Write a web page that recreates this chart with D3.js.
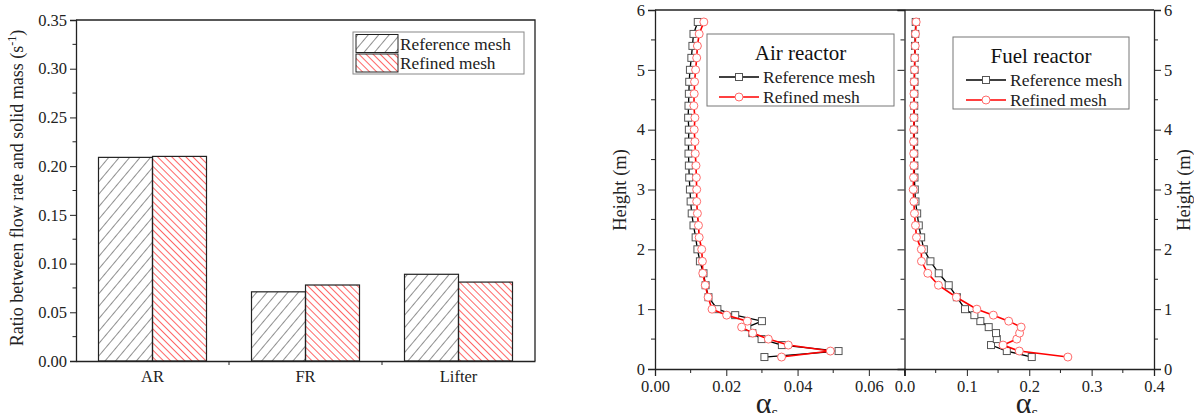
<!DOCTYPE html>
<html>
<head>
<meta charset="utf-8">
<script src="https://cdn.jsdelivr.net/npm/d3@7"></script>
<style>
  body { margin: 0; background: #fff; }
  svg text { font-family: "Liberation Serif", "Times New Roman", serif; }
</style>
</head>
<body>
<div id="chart"></div>
<script>
// bar chart data
var cats = ["AR", "FR", "Lifter"]
var series = ["Reference mesh", "Refined mesh"]
var refRatio = [0.209, 0.071, 0.089]
var fineRatio = [0.210, 0.078, 0.081]
var ratioTicks = [0, 0.05, 0.10, 0.15, 0.20, 0.25, 0.30, 0.35]

// profile data (height in m, solid fraction)
var heights = [0.2, 0.3, 0.4, 0.5, 0.6, 0.7, 0.8, 0.9, 1.0, 1.2, 1.4, 1.6, 1.8, 2.0, 2.2, 2.4, 2.6, 2.8, 3.0,
  3.2, 3.4, 3.6, 3.8, 4.0, 4.2, 4.4, 4.6, 4.8, 5.0, 5.2, 5.4, 5.6, 5.8]
var airRef = [0.0307, 0.0515, 0.0356, 0.0299, 0.0273, 0.0259, 0.0300, 0.0225, 0.0175, 0.0150, 0.0142, 0.0136,
  0.0126, 0.0119, 0.0114, 0.0108, 0.0103, 0.0100, 0.0098, 0.0096, 0.0095, 0.0094, 0.0094, 0.0095, 0.0093,
  0.0094, 0.0095, 0.0096, 0.0098, 0.0102, 0.0105, 0.0108, 0.0120]
var airFine = [0.0355, 0.0492, 0.0374, 0.0318, 0.0274, 0.0243, 0.0259, 0.0201, 0.0160, 0.0149, 0.0141, 0.0134,
  0.0133, 0.0131, 0.0124, 0.0122, 0.0119, 0.0117, 0.0117, 0.0116, 0.0115, 0.0113, 0.0112, 0.0110, 0.0112,
  0.0109, 0.0110, 0.0111, 0.0114, 0.0117, 0.0119, 0.0124, 0.0137]
var fuelRef = [0.2040, 0.1640, 0.1387, 0.1480, 0.1467, 0.1350, 0.1216, 0.1120, 0.0970, 0.0840, 0.0709, 0.0549,
  0.0416, 0.0310, 0.0267, 0.0229, 0.0203, 0.0176, 0.0165, 0.0160, 0.0158, 0.0156, 0.0155, 0.0154, 0.0155,
  0.0156, 0.0158, 0.0160, 0.0162, 0.0164, 0.0168, 0.0172, 0.0180]
var fuelFine = [0.2619, 0.1840, 0.1580, 0.1800, 0.1845, 0.1870, 0.1670, 0.1424, 0.1160, 0.0832, 0.0544, 0.0373,
  0.0272, 0.0270, 0.0192, 0.0176, 0.0160, 0.0150, 0.0140, 0.0145, 0.0150, 0.0148, 0.0146, 0.0148, 0.0150,
  0.0150, 0.0152, 0.0155, 0.0160, 0.0164, 0.0172, 0.0176, 0.0187]
var heightTicks = [0, 1, 2, 3, 4, 5, 6]
var airTicks = [0, 0.02, 0.04, 0.06]
var fuelTicks = [0, 0.1, 0.2, 0.3, 0.4]

var serif = "'Liberation Serif', 'Times New Roman', serif"

var svg = d3.select("#chart").append("svg")
  .attr("width", 1194)
  .attr("height", 413)

// hatch patterns
var defs = svg.append("defs")
defs.append("pattern")
  .attr("id", "hatchBlack")
  .attr("patternUnits", "userSpaceOnUse")
  .attr("width", 8).attr("height", 8)
  .attr("patternTransform", "rotate(40)")
  .append("line")
    .attr("x1", 0).attr("y1", 0).attr("x2", 0).attr("y2", 8)
    .attr("stroke", "#222").attr("stroke-width", 1)
defs.append("pattern")
  .attr("id", "hatchRed")
  .attr("patternUnits", "userSpaceOnUse")
  .attr("width", 5).attr("height", 5)
  .attr("patternTransform", "rotate(-45)")
  .append("line")
    .attr("x1", 0).attr("y1", 0).attr("x2", 0).attr("y2", 5)
    .attr("stroke", "#f00").attr("stroke-width", 1.2)

var fills = ["url(#hatchBlack)", "url(#hatchRed)"]

//---------------- bar chart ----------------
var bx = d3.scaleBand().domain(cats).range([76, 535]).padding(0)
var bx1 = d3.scaleBand().domain(series).range([0, bx.bandwidth()]).paddingOuter(0.4167).paddingInner(0)
var by = d3.scaleLinear().domain([0, 0.35]).range([361, 20])

var barG = svg.append("g")
var rows = cats.map(function(c, i) { return [refRatio[i], fineRatio[i]] })
cats.forEach(function(c, i) {
  series.forEach(function(s, j) {
    barG.append("rect")
      .attr("x", bx(c) + bx1(s))
      .attr("y", by(rows[i][j]))
      .attr("width", bx1.bandwidth())
      .attr("height", by(0) - by(rows[i][j]))
      .attr("fill", fills[j])
      .attr("stroke", "#222")
      .attr("stroke-width", 1.2)
  })
})

// frame
svg.append("path")
  .attr("d", "M76,20H535V361")
  .attr("fill", "none").attr("stroke", "#222").attr("stroke-width", 1.3)

var yAxisL = svg.append("g")
  .attr("transform", "translate(76,0)")
  .call(d3.axisLeft(by).tickValues(ratioTicks).tickFormat(d3.format(".2f")).tickSize(6).tickPadding(3))
yAxisL.append("g").selectAll("line")
  .data(d3.range(0.025, 0.35, 0.05)).enter().append("line")
  .attr("x1", 0).attr("x2", -3.5)
  .attr("y1", function(d) { return by(d) }).attr("y2", function(d) { return by(d) })
  .attr("stroke", "#222")

var xAxisL = svg.append("g")
  .attr("transform", "translate(0,361)")
  .call(d3.axisBottom(bx).tickSize(0).tickPadding(9))
xAxisL.append("g").selectAll("line")
  .data([bx("FR"), bx("Lifter")]).enter().append("line")
  .attr("x1", function(d) { return d }).attr("x2", function(d) { return d })
  .attr("y1", 0).attr("y2", 4)
  .attr("stroke", "#222")

svg.append("text")
  .attr("transform", "translate(23,188) rotate(-90)")
  .attr("text-anchor", "middle")
  .attr("font-size", 18)
  .attr("fill", "#222")
  .html("Ratio between flow rate and solid mass (s<tspan dy='-7' font-size='12'>-1</tspan><tspan dy='7'>)</tspan>")

// bar legend
var bl = svg.append("g")
bl.append("rect").attr("x", 353).attr("y", 32).attr("width", 171).attr("height", 42)
  .attr("fill", "#fff").attr("stroke", "#888").attr("stroke-width", 1)
series.forEach(function(s, j) {
  bl.append("rect").attr("x", 356).attr("y", 34.5 + j * 19.5).attr("width", 42).attr("height", 18)
    .attr("fill", fills[j]).attr("stroke", "#222").attr("stroke-width", 1)
  bl.append("text").attr("x", 400).attr("y", 49.5 + j * 19.5)
    .attr("font-size", 17.3).attr("fill", "#222").text(s)
})

//---------------- profiles ----------------
var hy = d3.scaleLinear().domain([0, 6]).range([369, 10])
var ax = d3.scaleLinear().domain([0, 0.07]).range([655, 904.5])
var fx = d3.scaleLinear().domain([0, 0.4]).range([904.5, 1154])

function drawMarker(g, x, y, shape) {
  if (shape == "square") {
    g.append("rect").attr("x", x - 3.5).attr("y", y - 3.5).attr("width", 7).attr("height", 7)
      .attr("fill", "#fff").attr("stroke", "#555").attr("stroke-width", 1)
  } else {
    g.append("circle").attr("cx", x).attr("cy", y).attr("r", 4)
      .attr("fill", "#fff").attr("stroke", "#ff6a6a").attr("stroke-width", 1)
  }
}

function drawSeries(xs, vals, color, shape) {
  var pts = heights.map(function(h, i) { return [xs(vals[i]), hy(h)] })
  svg.append("path")
    .attr("d", d3.line()(pts))
    .attr("fill", "none")
    .attr("stroke", color)
    .attr("stroke-width", color == "#000" ? 1.3 : 1.6)
  var g = svg.append("g")
  pts.forEach(function(p) { drawMarker(g, p[0], p[1], shape) })
}

drawSeries(ax, airRef, "#000", "square")
drawSeries(ax, airFine, "#f00", "circle")
drawSeries(fx, fuelRef, "#000", "square")
drawSeries(fx, fuelFine, "#f00", "circle")

// frame and axes
svg.append("path")
  .attr("d", "M655,10H1154")
  .attr("stroke", "#222").attr("stroke-width", 1.3)

function minorY(g, dir) {
  g.append("g").selectAll("line")
    .data(d3.range(0.5, 6, 1)).enter().append("line")
    .attr("x1", 0).attr("x2", dir * 4)
    .attr("y1", function(d) { return hy(d) }).attr("y2", function(d) { return hy(d) })
    .attr("stroke", "#222")
}

var hl = svg.append("g").attr("transform", "translate(655,0)")
  .call(d3.axisLeft(hy).tickValues(heightTicks).tickFormat(d3.format("d")).tickSize(7).tickPadding(3))
minorY(hl, -1)

var hm = svg.append("g").attr("transform", "translate(904.5,0)")
  .call(d3.axisLeft(hy).tickValues(heightTicks).tickFormat("").tickSize(7))
minorY(hm, -1)

var hr = svg.append("g").attr("transform", "translate(1154,0)")
  .call(d3.axisRight(hy).tickValues(heightTicks).tickFormat(d3.format("d")).tickSize(7).tickPadding(3))
minorY(hr, 1)

function minorX(g, xs, vals) {
  g.append("g").selectAll("line")
    .data(vals).enter().append("line")
    .attr("x1", function(d) { return xs(d) }).attr("x2", function(d) { return xs(d) })
    .attr("y1", 0).attr("y2", 4)
    .attr("stroke", "#222")
}

var axB = svg.append("g").attr("transform", "translate(0,369)")
  .call(d3.axisBottom(ax).tickValues(airTicks).tickFormat(d3.format(".2f")).tickSize(7).tickPadding(4))
minorX(axB, ax, [0.01, 0.03, 0.05, 0.07])

var fxB = svg.append("g").attr("transform", "translate(0,369)")
  .call(d3.axisBottom(fx).tickValues(fuelTicks).tickFormat(d3.format(".1f")).tickSize(7).tickPadding(4))
minorX(fxB, fx, [0.05, 0.15, 0.25, 0.35])

svg.selectAll(".domain").attr("stroke", "#222").attr("stroke-width", 1.3)
svg.selectAll(".tick line").attr("stroke", "#222")
svg.selectAll(".tick text")
  .attr("fill", "#222")
  .style("font-size", "16.5px")
  .style("font-family", serif)

svg.append("text")
  .attr("transform", "translate(626,190) rotate(-90)")
  .attr("text-anchor", "middle").attr("font-size", 18.5).attr("fill", "#222")
  .text("Height (m)")
svg.append("text")
  .attr("transform", "translate(1190,190) rotate(-90)")
  .attr("text-anchor", "middle").attr("font-size", 18.5).attr("fill", "#222")
  .text("Height (m)")

// x titles (alpha_s)
;[[767, "s"], [1027, "s"]].forEach(function(t) {
  svg.append("text")
    .attr("x", t[0]).attr("y", 413)
    .attr("text-anchor", "middle").attr("font-size", 30).attr("fill", "#222")
    .html("α<tspan dy='5' font-size='17'>" + t[1] + "</tspan>")
})

// profile legends
function profileLegend(x0, y0, w, title, lx) {
  var g = svg.append("g")
  g.append("rect").attr("x", x0).attr("y", y0).attr("width", w).attr("height", 72)
    .attr("fill", "#fff").attr("stroke", "#777").attr("stroke-width", 1)
  g.append("text").attr("x", x0 + w / 2).attr("y", y0 + 26)
    .attr("text-anchor", "middle").attr("font-size", 21).attr("fill", "#111").text(title)
  var entries = [["#000", "square"], ["#f00", "circle"]]
  entries.forEach(function(e, j) {
    var yy = y0 + 43 + j * 20
    g.append("line").attr("x1", lx).attr("x2", lx + 40).attr("y1", yy).attr("y2", yy)
      .attr("stroke", e[0]).attr("stroke-width", 1.5)
    drawMarker(g, lx + 20, yy, e[1])
    g.append("text").attr("x", lx + 44).attr("y", yy + 6)
      .attr("font-size", 17.5).attr("fill", "#222").text(series[j])
  })
}
profileLegend(707, 34, 187, "Air reactor", 719)
profileLegend(953, 37, 176, "Fuel reactor", 966)
</script>
</body>
</html>
